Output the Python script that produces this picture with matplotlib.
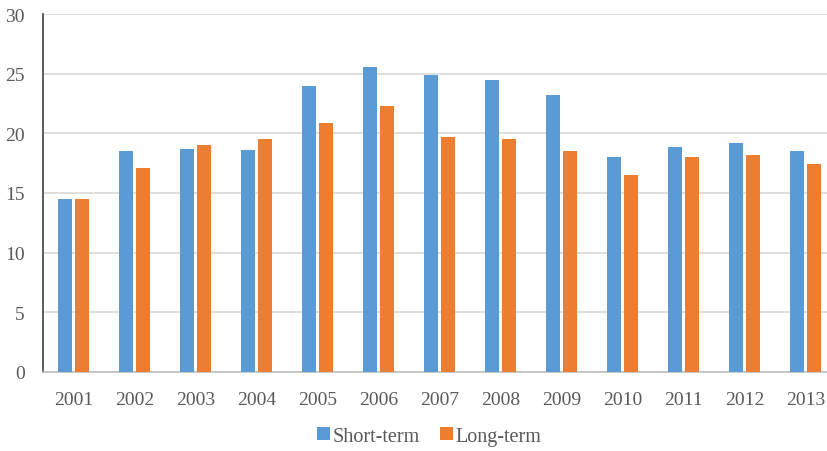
import numpy as np
import matplotlib
matplotlib.use("Agg")
import matplotlib.pyplot as plt

years = ["2001", "2002", "2003", "2004", "2005", "2006", "2007",
         "2008", "2009", "2010", "2011", "2012", "2013"]
short_term = [14.5, 18.5, 18.7, 18.6, 23.95, 25.6, 24.85, 24.5, 23.2, 18.0, 18.85, 19.2, 18.5]
long_term = [14.5, 17.1, 19.0, 19.5, 20.9, 22.25, 19.7, 19.5, 18.55, 16.5, 18.0, 18.15, 17.4]

plt.rcParams['font.family'] = ['Liberation Serif', 'DejaVu Serif']

fig = plt.figure(figsize=(8.28, 4.52), dpi=100)
ax = fig.add_axes([43/828, 79/452, 785/828, 358/452])

x = np.arange(len(years))
w = 0.23
ax.bar(x - 0.143, short_term, w, color="#5B9BD5", label="Short-term", zorder=3)
ax.bar(x + 0.143, long_term, w, color="#ED7D31", label="Long-term", zorder=3)

ax.set_ylim(0, 30)
ax.set_yticks(range(0, 31, 5))
ax.set_xlim(-0.5, -0.5 + 785/61)
ax.set_xticks(x)
ax.set_xticklabels(years)

ax.grid(axis="y", color="#D9D9D9", linewidth=1.2, zorder=0)
for s in ["top", "right"]:
    ax.spines[s].set_visible(False)
ax.spines["left"].set_color("#404040")
ax.spines["left"].set_linewidth(1.2)
ax.spines["bottom"].set_color("#BFBFBF")
ax.spines["bottom"].set_linewidth(1.2)
ax.tick_params(length=0, labelsize=14, colors="#595959")
ax.tick_params(axis="y", pad=13)
ax.tick_params(axis="x", pad=13.5)

fig.legend(loc="center", bbox_to_anchor=(0.518, 0.033), ncol=2, frameon=False,
           fontsize=14.5, handlelength=0.65, handleheight=0.65,
           handletextpad=0.12, columnspacing=1.0, labelcolor="#595959")

fig.savefig("out.png", dpi=100)
